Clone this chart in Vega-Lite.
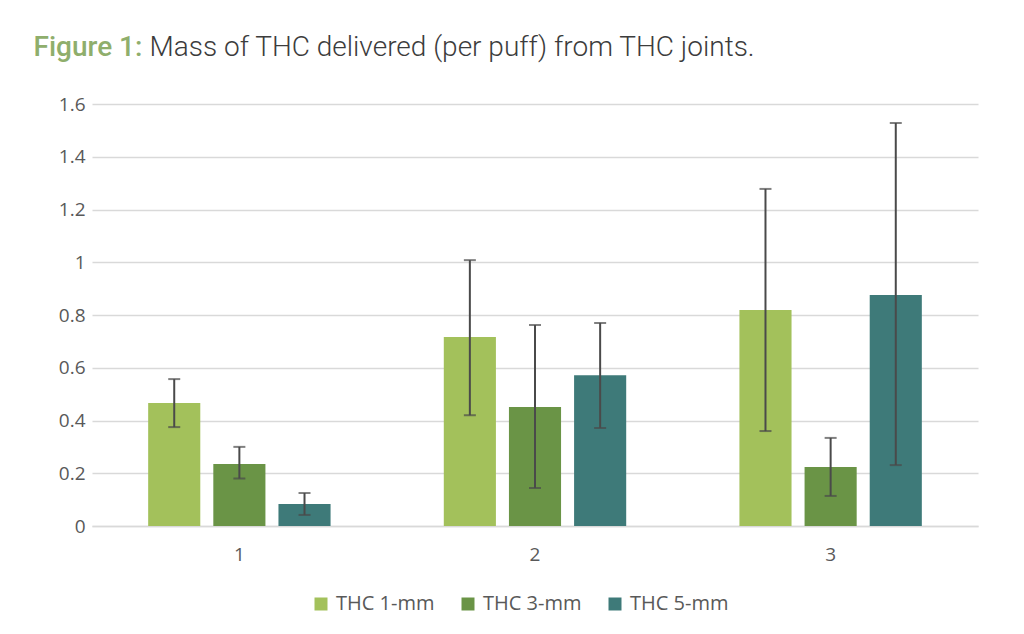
{
  "$schema": "https://vega.github.io/schema/vega-lite/v6.json",
  "background": "white",
  "width": 886,
  "height": 422,
  "padding": {"left": 33, "top": 33, "right": 46, "bottom": 10},
  "config": {
    "view": {"stroke": null},
    "font": "Open Sans"
  },
  "data": {
    "values": [
      {"puff": "1", "size": "THC 1-mm", "mean": 0.466, "lo": 0.375, "hi": 0.557},
      {"puff": "1", "size": "THC 3-mm", "mean": 0.235, "lo": 0.18, "hi": 0.30},
      {"puff": "1", "size": "THC 5-mm", "mean": 0.083, "lo": 0.042, "hi": 0.125},
      {"puff": "2", "size": "THC 1-mm", "mean": 0.717, "lo": 0.42, "hi": 1.008},
      {"puff": "2", "size": "THC 3-mm", "mean": 0.451, "lo": 0.144, "hi": 0.762},
      {"puff": "2", "size": "THC 5-mm", "mean": 0.572, "lo": 0.372, "hi": 0.77},
      {"puff": "3", "size": "THC 1-mm", "mean": 0.819, "lo": 0.36, "hi": 1.278},
      {"puff": "3", "size": "THC 3-mm", "mean": 0.224, "lo": 0.114, "hi": 0.334},
      {"puff": "3", "size": "THC 5-mm", "mean": 0.876, "lo": 0.231, "hi": 1.528}
    ]
  },
  "encoding": {
    "x": {
      "field": "puff",
      "type": "nominal",
      "scale": {"paddingInner": 0.383, "paddingOuter": 0.19},
      "axis": {
        "title": "Mass of THC delivered (per puff) from THC joints.",
        "titleFont": "Roboto",
        "titleFontSize": 28,
        "titleFontWeight": 300,
        "titleColor": "#3c3c3c",
        "titleAngle": 0,
        "titleAlign": "left",
        "titleBaseline": "alphabetic",
        "titleX": 57,
        "titleY": -471,
        "labelAngle": 0,
        "labelFontSize": 19,
        "labelColor": "#595959",
        "labelPadding": 19,
        "ticks": false,
        "domainColor": "#d9d9d9",
        "domainWidth": 1.5
      }
    },
    "xOffset": {
      "field": "size",
      "type": "nominal",
      "scale": {"paddingInner": 0.2, "paddingOuter": 0}
    }
  },
  "layer": [
    {
      "mark": {"type": "bar"},
      "encoding": {
        "y": {
          "field": "mean",
          "type": "quantitative",
          "scale": {"domain": [0, 1.6]},
          "axis": {
            "title": "Figure 1:",
            "titleFont": "Roboto",
            "titleFontSize": 28,
            "titleFontWeight": 500,
            "titleColor": "#8fae6c",
            "titleAngle": 0,
            "titleAlign": "left",
            "titleBaseline": "alphabetic",
            "titleX": -59,
            "titleY": -49,
            "values": [0, 0.2, 0.4, 0.6, 0.8, 1, 1.2, 1.4, 1.6],
            "labelExpr": "datum.value == 1 ? '1' : datum.value == 0 ? '0' : format(datum.value, '.1f')",
            "labelFontSize": 19,
            "labelColor": "#595959",
            "labelPadding": 7,
            "minExtent": 59,
            "ticks": false,
            "domain": false,
            "gridColor": "#d9d9d9",
            "gridWidth": 1.5
          }
        },
        "color": {
          "field": "size",
          "type": "nominal",
          "scale": {
            "domain": ["THC 1-mm", "THC 3-mm", "THC 5-mm"],
            "range": ["#a3c15b", "#6a9446", "#3e7a79"]
          },
          "legend": {
            "title": null,
            "orient": "none",
            "legendX": 219,
            "legendY": 490,
            "direction": "horizontal",
            "symbolType": "square",
            "symbolSize": 169,
            "symbolStrokeWidth": 0,
            "labelFontSize": 20,
            "labelColor": "#595959",
            "labelOffset": 5,
            "columnPadding": 23
          }
        }
      }
    },
    {
      "mark": {"type": "rule", "color": "#4a4a4a", "strokeWidth": 2},
      "encoding": {
        "y": {"field": "lo", "type": "quantitative"},
        "y2": {"field": "hi"}
      }
    },
    {
      "mark": {"type": "tick", "color": "#4a4a4a", "thickness": 2, "size": 12},
      "encoding": {
        "y": {"field": "lo", "type": "quantitative"}
      }
    },
    {
      "mark": {"type": "tick", "color": "#4a4a4a", "thickness": 2, "size": 12},
      "encoding": {
        "y": {"field": "hi", "type": "quantitative"}
      }
    }
  ]
}
